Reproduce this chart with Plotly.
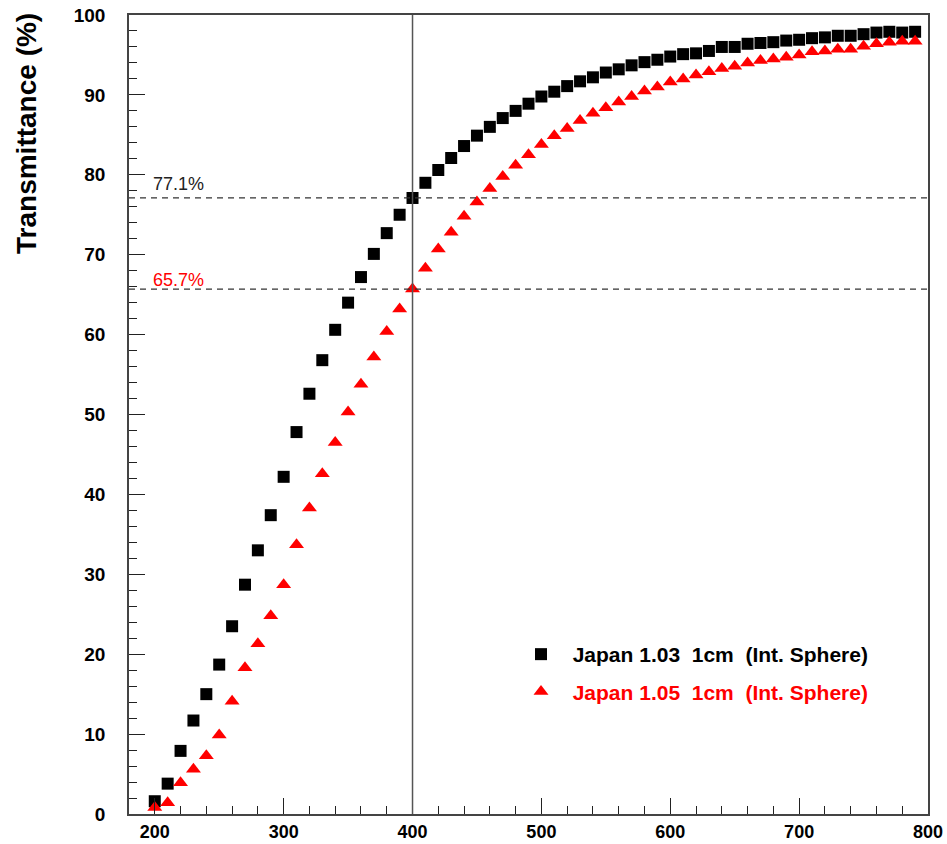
import plotly.graph_objects as go

wavelength = [200, 210, 220, 230, 240, 250, 260, 270, 280, 290,
              300, 310, 320, 330, 340, 350, 360, 370, 380, 390,
              400, 410, 420, 430, 440, 450, 460, 470, 480, 490,
              500, 510, 520, 530, 540, 550, 560, 570, 580, 590,
              600, 610, 620, 630, 640, 650, 660, 670, 680, 690,
              700, 710, 720, 730, 740, 750, 760, 770, 780, 790]

japan_103 = [1.6, 3.8, 7.9, 11.7, 15.0, 18.7, 23.5, 28.7, 33.0, 37.4,
             42.2, 47.8, 52.6, 56.8, 60.6, 64.0, 67.2, 70.1, 72.7, 75.0,
             77.1, 79.0, 80.6, 82.1, 83.6, 84.9, 86.0, 87.1, 88.0, 88.9,
             89.8, 90.4, 91.1, 91.7, 92.2, 92.8, 93.2, 93.7, 94.1, 94.4,
             94.8, 95.1, 95.2, 95.5, 96.0, 96.0, 96.4, 96.5, 96.6, 96.8,
             96.9, 97.1, 97.2, 97.4, 97.4, 97.6, 97.8, 97.9, 97.8, 97.9]

japan_105 = [0.8, 1.4, 3.9, 5.6, 7.3, 9.9, 14.1, 18.3, 21.3, 24.8,
             28.7, 33.7, 38.3, 42.6, 46.5, 50.3, 53.8, 57.2, 60.4, 63.2,
             65.7, 68.3, 70.7, 72.8, 74.8, 76.6, 78.3, 79.8, 81.2, 82.5,
             83.8, 84.9, 85.8, 86.8, 87.7, 88.4, 89.1, 89.8, 90.5, 91.0,
             91.6, 92.0, 92.5, 92.9, 93.3, 93.6, 94.0, 94.3, 94.5, 94.7,
             95.0, 95.4, 95.5, 95.7, 95.7, 96.1, 96.4, 96.6, 96.7, 96.7]

ref_wavelength = 400
ref_levels = [77.1, 65.7]
ref_labels = ["77.1%", "65.7%"]
ref_colors = ["#222222", "#ff0000"]
ref_label_y = [78.8, 66.8]

x_range = [180, 800]
y_range = [0, 100]

FONT = "Liberation Sans, Arial, sans-serif"
NB = "\u00a0"

fig = go.Figure()

fig.add_trace(go.Scatter(
    x=wavelength, y=japan_103, mode="markers",
    marker=dict(symbol="square", size=12, color="black"),
    name=NB + NB + "<b>Japan 1.03" + NB + NB + "1cm" + NB + NB + "(Int. Sphere)</b>",
    legendgroup="a",
))
fig.add_trace(go.Scatter(
    x=wavelength, y=japan_105, mode="markers",
    marker=dict(symbol="triangle-up", size=13, color="#ff0000"),
    name=NB + NB + "<span style='color:#ff0000'><b>Japan 1.05" + NB + NB + "1cm" + NB + NB + "(Int. Sphere)</b></span>",
    legendgroup="b",
))

# reference lines
fig.add_shape(type="line", xref="x", yref="y", x0=ref_wavelength, x1=ref_wavelength,
              y0=y_range[0], y1=y_range[1], line=dict(color="#555555", width=1.5))
for lvl in ref_levels:
    fig.add_shape(type="line", xref="x", yref="y", x0=x_range[0], x1=x_range[1],
                  y0=lvl, y1=lvl, line=dict(color="#333333", width=1.2, dash="6px,5px"))

for lbl, col, ly in zip(ref_labels, ref_colors, ref_label_y):
    fig.add_annotation(x=x_range[0], y=ly, xref="x", yref="y", text=lbl,
                       showarrow=False, xanchor="left", yanchor="middle", xshift=22,
                       font=dict(family=FONT, size=18, color=col))

fig.add_annotation(xref="paper", yref="paper", x=-0.128, y=0.852,
                   text="<b>Transmittance (%)</b>", textangle=-90, showarrow=False,
                   xanchor="center", yanchor="middle",
                   font=dict(family=FONT, size=28, color="black"))

axis_common = dict(
    showline=True, linecolor="#444444", linewidth=1.5, mirror=True,
    showgrid=False, zeroline=False, automargin=False,
    ticks="inside", tickcolor="#222222", tickwidth=1.3,
)

fig.update_xaxes(range=x_range, dtick=100, tick0=200, ticklen=16,
                 minor=dict(dtick=20, tick0=200, ticks="inside", ticklen=8,
                            tickcolor="#222222", tickwidth=1.3),
                 tickfont=dict(family=FONT, size=18, color="black", weight="bold"),
                 ticklabelstandoff=1, **axis_common)
fig.update_yaxes(range=y_range, dtick=10, ticklen=16,
                 minor=dict(dtick=2, ticks="inside", ticklen=8,
                            tickcolor="#222222", tickwidth=1.3),
                 tickfont=dict(family=FONT, size=19, color="black", weight="bold"),
                 ticklabelstandoff=18, **axis_common)

fig.update_layout(
    width=947, height=844,
    margin=dict(l=129, r=19, t=15, b=30),
    paper_bgcolor="white", plot_bgcolor="white",
    showlegend=True,
    legend=dict(x=(541 - 20 - 129) / 799, y=(814 - 634) / 799, xanchor="left", yanchor="top",
                bgcolor="rgba(0,0,0,0)", borderwidth=0,
                font=dict(family=FONT, size=21, color="black"),
                tracegroupgap=7, traceorder="grouped", itemwidth=30),
)

fig.write_html("out.html")
